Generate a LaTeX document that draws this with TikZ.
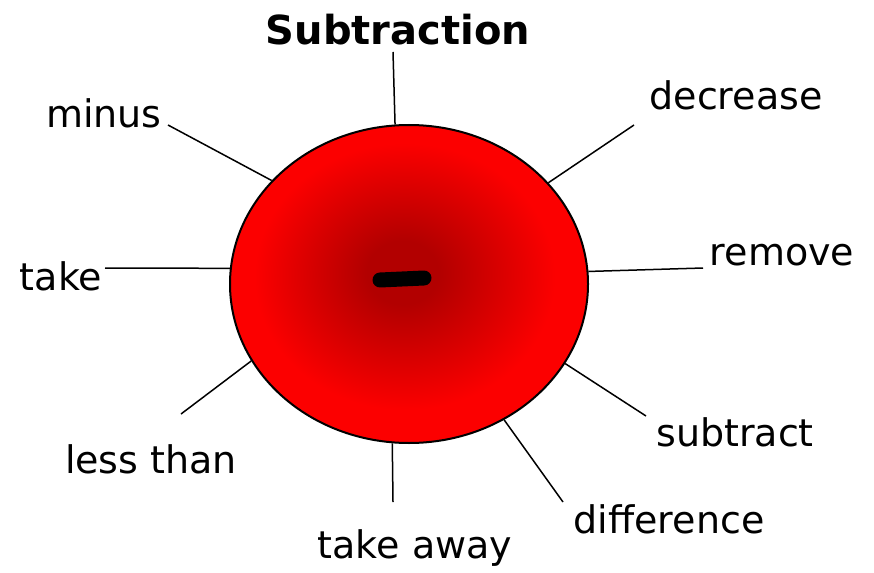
\documentclass[tikz,border=0pt]{standalone}
\usepackage{fontspec}
\setmainfont{DejaVu Sans}
\usetikzlibrary{shapes.geometric}
\definecolor{darkc}{RGB}{178,0,0}
\definecolor{edgec}{RGB}{252,0,0}
\pgfdeclareradialshading{redball}{\pgfpoint{-1bp}{2bp}}{color(0bp)=(darkc); color(5bp)=(darkc); color(21bp)=(edgec); color(50bp)=(edgec)}
\tikzset{
  word/.style={anchor=base, inner sep=0pt, font=\fontsize{38}{46}\selectfont},
  title/.style={anchor=base, inner sep=0pt, font=\fontsize{40}{48}\selectfont\bfseries},
  spoke/.style={line width=1.5pt, black},
}
\begin{document}
\begin{tikzpicture}[x=1pt, y=-1pt]
\useasboundingbox (0,0) rectangle (874,572);
\node[ellipse, draw, line width=2pt, shading=redball, minimum width=358pt, minimum height=318pt, inner sep=0pt] (c) at (409,284) {};
\draw[line width=15pt, line cap=round] (380,280) coordinate (d1) -- (424,278) coordinate (d2);

\node[title] (t) at (398,45) {Subtraction};
\node[word] (minus) at (104,128) {minus};
\node[word] (decrease) at (736,110) {decrease};
\node[word] (take) at (61,290) {take};
\node[word] (remove) at (782,265) {remove};
\node[word] (less) at (151,473) {less than};
\node[word] (subtract) at (735,446) {subtract};
\node[word] (difference) at (669,533) {difference};
\node[word] (takeaway) at (415,558) {take away};

\coordinate (e1) at (393,52);
\coordinate (e2) at (168,125);
\coordinate (e3) at (634,125);
\coordinate (e4) at (105,268);
\coordinate (e5) at (703,268);
\coordinate (e6) at (181,414);
\coordinate (e7) at (646,416);
\coordinate (e8) at (563,502);
\coordinate (e9) at (393,502);

\draw[spoke] (e1) -- (c.95.7);
\draw[spoke] (e2) -- (c.143.8);
\draw[spoke] (e3) -- (c.36.8);
\draw[spoke] (e4) -- (c.175.9);
\draw[spoke] (e5) -- (c.4.2);
\draw[spoke] (e6) -- (c.206.7);
\draw[spoke] (e7) -- (c.333.1);
\draw[spoke] (e8) -- (c.305.9);
\draw[spoke] (e9) -- (c.264.3);
\end{tikzpicture}
\end{document}
